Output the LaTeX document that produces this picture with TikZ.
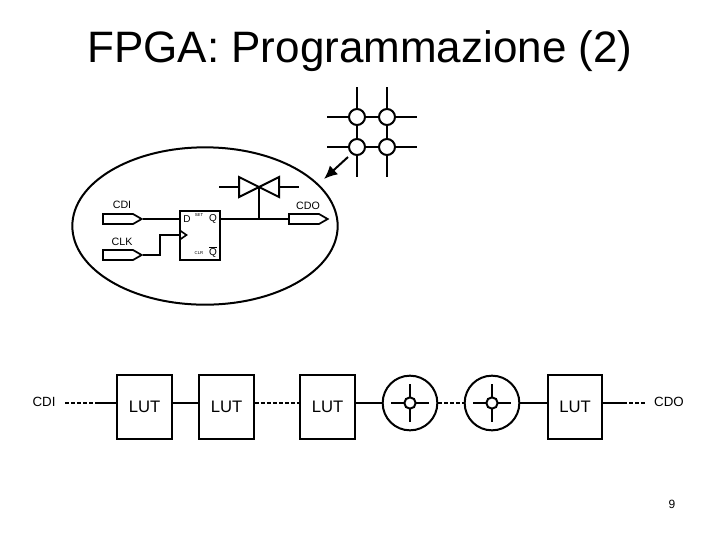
\documentclass[tikz,border=0pt]{standalone}
\usepackage{fontspec}
\setmainfont{Liberation Sans}
\usetikzlibrary{arrows.meta, positioning, shapes.symbols, shapes.geometric}
\tikzset{
  wire/.style={line width=1.5pt, draw=black},
  linkdash/.style={line width=1.5pt, draw=black, dash pattern=on 3pt off 1.5pt},
  lutblock/.style={
    rectangle, draw=black, line width=1.5pt, fill=white,
    minimum width=41pt, minimum height=48pt, inner sep=0pt,
    font=\fontsize{12.5}{14}\selectfont
  },
  swblock/.style={
    circle, draw=black, line width=1.5pt, fill=white,
    minimum size=41pt, inner sep=0pt
  },
  dotnode/.style={
    circle, draw=black, line width=1.5pt, fill=white,
    minimum size=8.5pt, inner sep=0pt
  },
  padblock/.style={
    signal, signal to=east, signal pointer angle=60, draw=black, line width=1.3pt, fill=white,
    minimum width=29pt, minimum height=7.5pt, inner sep=0pt
  },
  portlabel/.style={font=\fontsize{8}{9}\selectfont, inner sep=0pt},
  endlabel/.style={font=\fontsize{10}{12}\selectfont, inner sep=0pt},
  pinlabel/.style={font=\fontsize{7.5}{9}\selectfont, inner sep=0pt},
  smalllabel/.style={font=\fontsize{3.2}{4}\selectfont, inner sep=0pt}
}
\begin{document}
\begin{tikzpicture}[x=0.75pt, y=-0.75pt]
\useasboundingbox (0,0) rectangle (720,540);

\node[font=\fontsize{33}{40}\selectfont] (title) at (360,51) {FPGA: Programmazione (2)};
\node[font=\fontsize{9}{11}\selectfont] (pagenum) at (672,504) {9};

% -------- CROSSPOINT GRID --------
\coordinate (vtopa) at (357,87);
\coordinate (vbota) at (357,177);
\coordinate (vtopb) at (387,87);
\coordinate (vbotb) at (387,177);
\coordinate (hlefta) at (327,117);
\coordinate (hrighta) at (417,117);
\coordinate (hleftb) at (327,147);
\coordinate (hrightb) at (417,147);
\draw[wire] (vtopa) -- (vbota);
\draw[wire] (vtopb) -- (vbotb);
\draw[wire] (hlefta) -- (hrighta);
\draw[wire] (hleftb) -- (hrightb);
\foreach \n/\x/\y in {xa/357/117,xb/387/117,xc/357/147,xd/387/147}
  \node[dotnode, minimum size=12pt] (\n) at (\x,\y) {};

% -------- CELL --------
\node[draw=black, line width=1.5pt, ellipse, minimum width=199pt, minimum height=118pt, inner sep=0pt] (cell) at (205,226) {};
\coordinate (arrowstart) at (348,157);
\coordinate (arrowend) at (324,179);
\draw[wire, -{Latex[length=10pt,width=9pt]}] (arrowstart) -- (arrowend);

\node[rectangle, draw=black, line width=1.5pt, minimum width=30pt, minimum height=37pt, inner sep=0pt] (ff) at (200,235.5) {};
\node[pinlabel] (ffd) at (187,219) {D};
\node[pinlabel] (ffq) at (213,219) {Q};
\node[pinlabel] (ffqn) at (213,252) {$\overline{\mbox{Q}}$};
\node[smalllabel] (ffset) at (199,215) {SET};
\node[smalllabel] (ffclr) at (199,253) {CLR};
\coordinate (ffclk) at (180,235);
\draw[wire, line width=1.2pt] (180,230.5) -- (186.5,235) -- (180,239.5);

\node[padblock] (cdipad) at (118,219) {};
\node[padblock] (clkpad) at (118,255) {};
\node[padblock] (cdopad) at (304,219) {};
\node[portlabel] (cdilabel) at (122,205) {CDI};
\node[portlabel] (clklabel) at (122,242) {CLK};
\node[portlabel] (cdolabel) at (308,206) {CDO};

\coordinate (ffin) at (ff.west |- cdipad.east);
\coordinate (ffout) at (ff.east |- cdopad.west);
\coordinate (tap) at (259,219);
\coordinate (gate) at (259,187);
\coordinate (gateleft) at (239,187);
\coordinate (gateright) at (279,187);
\coordinate (leadleft) at (219,187);
\coordinate (leadright) at (299,187);
\draw[wire] (cdipad.east) -- (ffin);
\draw[wire] (clkpad.east) -- (160,255) -- (160,235) -- (ffclk);
\draw[wire] (ffout) -- (cdopad.west);
\draw[wire] (tap) -- (gate);
\draw[wire] (leadleft) -- (gateleft);
\draw[wire] (gateright) -- (leadright);
\draw[wire] (239,177) -- (259,187) -- (239,197) -- cycle;
\draw[wire] (279,177) -- (259,187) -- (279,197) -- cycle;

% -------- LUT CHAIN --------
\node[endlabel] (cdi) at (44,402) {CDI};
\node[lutblock] (lut1) at (144.5,407) {LUT};
\node[lutblock] (lut2) at (226.5,407) {LUT};
\node[lutblock] (lut3) at (327.5,407) {LUT};
\node[swblock] (sw1) at (410,403) {};
\node[swblock] (sw2) at (492,403) {};
\node[lutblock] (lut4) at (575,407) {LUT};
\node[endlabel] (cdo) at (669,402) {CDO};

\foreach \s in {sw1,sw2} {
  \draw[wire] ([xshift=-14pt]\s.center) -- ([xshift=14pt]\s.center);
  \draw[wire] ([yshift=-14pt]\s.center) -- ([yshift=14pt]\s.center);
  \node[dotnode] (\s dot) at (\s.center) {};
}

\coordinate (cdiend) at (65,403);
\coordinate (cdijoin) at (96,403);
\coordinate (cdojoin) at (623,403);
\coordinate (cdoend) at (647,403);
\draw[linkdash] (cdiend) -- (cdijoin);
\draw[wire] (cdijoin) -- (lut1.west |- cdijoin);
\draw[wire] (lut1.east |- cdijoin) -- (lut2.west |- cdijoin);
\draw[linkdash] (lut2.east |- cdijoin) -- (lut3.west |- cdijoin);
\draw[wire] (lut3.east |- cdijoin) -- (sw1.west);
\draw[linkdash] (sw1.east) -- (sw2.west);
\draw[wire] (sw2.east) -- (lut4.west |- cdijoin);
\draw[wire] (lut4.east |- cdojoin) -- (cdojoin);
\draw[linkdash] (cdojoin) -- (cdoend);

\end{tikzpicture}
\end{document}
